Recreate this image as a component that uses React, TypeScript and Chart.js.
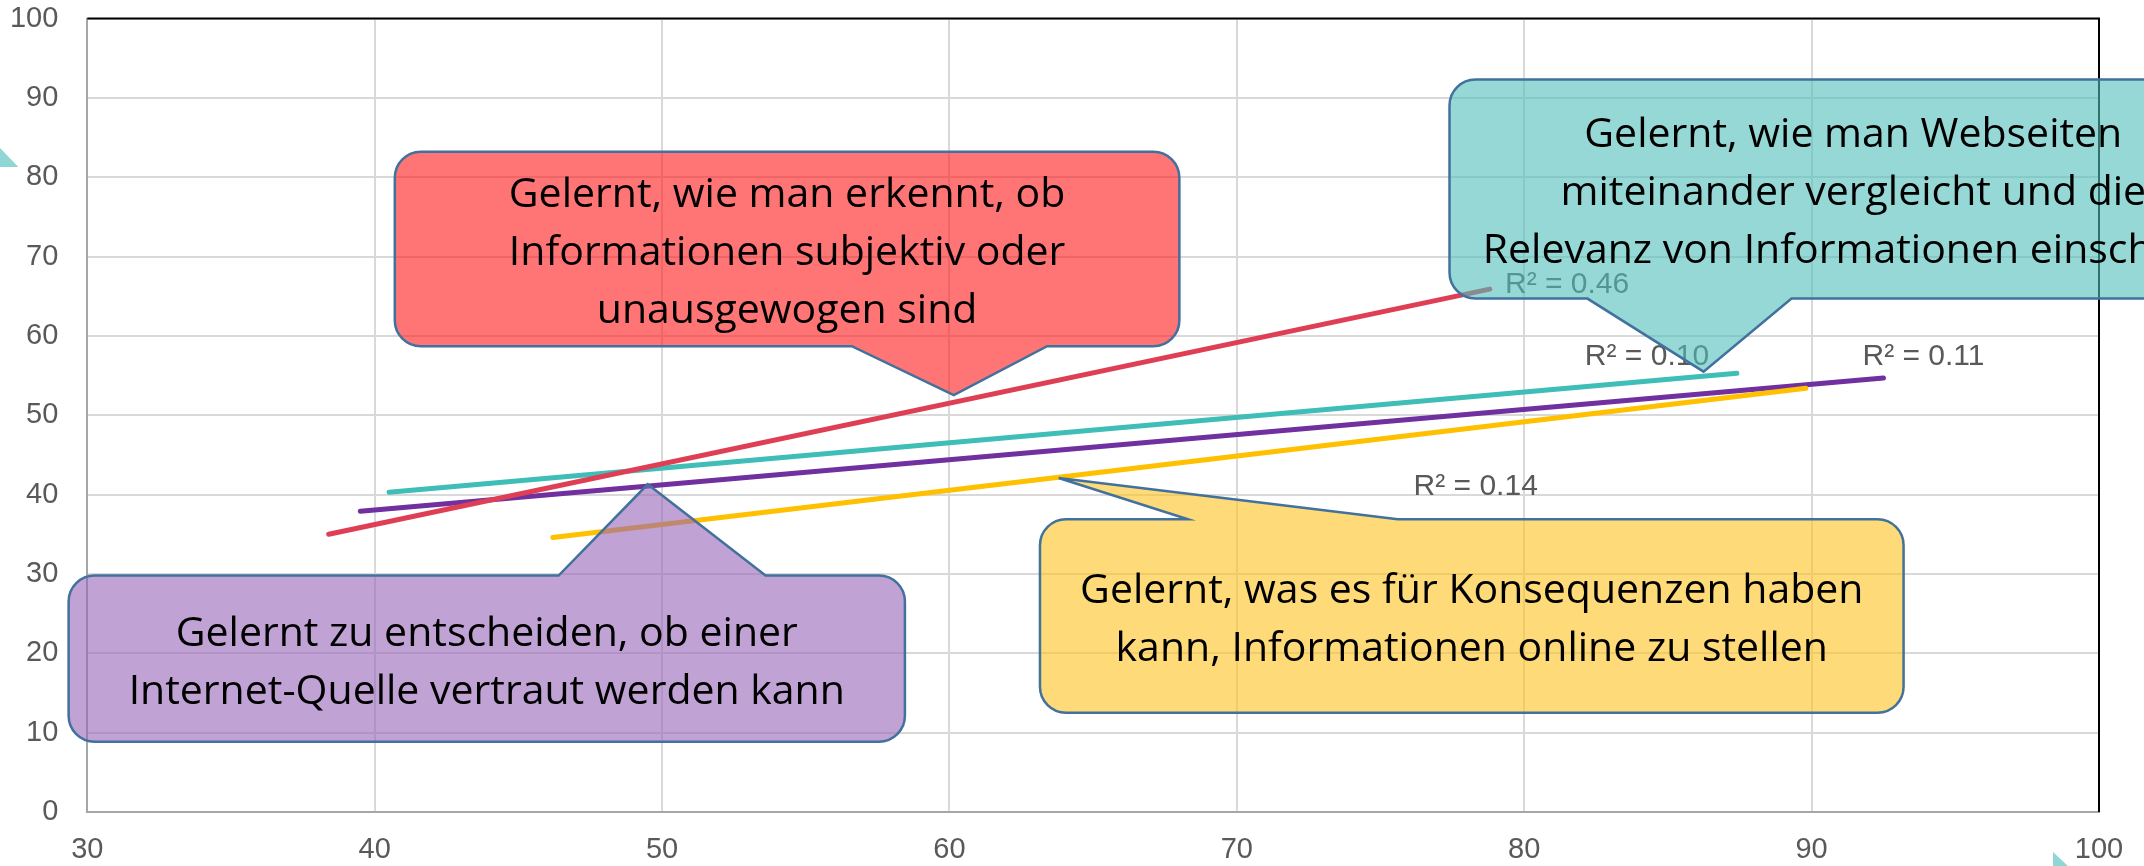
import React, { useEffect, useRef } from 'react';
import { Chart, registerables } from 'chart.js';

Chart.register(...registerables);

// ---- Axis ticks ----
const xTickValues = [30, 40, 50, 60, 70, 80, 90, 100];
const yTickValues = [0, 10, 20, 30, 40, 50, 60, 70, 80, 90, 100];

// ---- Linear trend lines (start / end points) ----
const redX = [38.4, 78.8];
const redY = [35.0, 65.9];
const yellowX = [46.2, 89.8];
const yellowY = [34.6, 53.4];
const cyanX = [40.5, 87.4];
const cyanY = [40.3, 55.3];
const purpleX = [39.5, 92.5];
const purpleY = [37.9, 54.7];

// ---- R² labels ----
const r2Texts = ['R² = 0.46', 'R² = 0.14', 'R² = 0.10', 'R² = 0.11'];

// ---- Callout texts ----
const redText = ['Gelernt, wie man erkennt, ob', 'Informationen subjektiv oder', 'unausgewogen sind'];
const yellowText = ['Gelernt, was es für Konsequenzen haben', 'kann, Informationen online zu stellen'];
const cyanText = ['Gelernt, wie man Webseiten', 'miteinander vergleicht und die', 'Relevanz von Informationen einschätzt'];
const purpleText = ['Gelernt zu entscheiden, ob einer', 'Internet-Quelle vertraut werden kann'];

// ---- Annotation placement (data coordinates) ----
const r2Anchors = [
  { x: 79.33, y: 66.4 },
  { x: 76.15, y: 40.96 },
  { x: 82.11, y: 57.34 },
  { x: 91.77, y: 57.34 },
];

type Callout = {
  lines: string[];
  x1: number; x2: number; y1: number; y2: number;
  side: 'top' | 'bottom';
  baseA: number; baseB: number; tipX: number; tipY: number;
  fill: string;
};

const callouts: Callout[] = [
  { lines: redText, x1: 40.7, x2: 68.0, y1: 58.7, y2: 83.2, side: 'bottom', baseA: 56.6, baseB: 63.4, tipX: 60.15, tipY: 52.55, fill: 'rgba(255,25,25,0.6)' },
  { lines: yellowText, x1: 63.15, x2: 93.2, y1: 12.5, y2: 36.9, side: 'top', baseA: 68.3, baseB: 75.6, tipX: 63.8, tipY: 42.1, fill: 'rgba(255,193,30,0.6)' },
  { lines: cyanText, x1: 77.4, x2: 105.5, y1: 64.7, y2: 92.3, side: 'bottom', baseA: 82.2, baseB: 89.3, tipX: 86.24, tipY: 55.5, fill: 'rgba(80,190,187,0.6)' },
  { lines: purpleText, x1: 29.35, x2: 58.45, y1: 8.85, y2: 29.8, side: 'top', baseA: 46.4, baseB: 53.6, tipX: 49.5, tipY: 41.3, fill: 'rgba(150,100,183,0.6)' },
];

const strayTriangles = [
  [{ x: 26.96, y: 83.7 }, { x: 27.6, y: 81.3 }, { x: 26.96, y: 81.3 }],
  [{ x: 98.4, y: -5.04 }, { x: 98.4, y: -6.8 }, { x: 98.92, y: -6.8 }],
];

const TICK_FONT = { family: '"Liberation Sans", Arial, sans-serif', size: 29 };
const CALLOUT_FONT = '41px "Open Sans", "Noto Sans", sans-serif';
const LINE_H = 58;
const CAP_H = 32;
const RADIUS = 26;

const overlayPlugin = {
  id: 'overlay',
  beforeDatasetsDraw(chart: any) {
    const { ctx, chartArea } = chart;
    ctx.save();
    ctx.strokeStyle = '#000000';
    ctx.lineWidth = 2;
    ctx.beginPath();
    ctx.moveTo(chartArea.left, chartArea.top);
    ctx.lineTo(chartArea.right, chartArea.top);
    ctx.lineTo(chartArea.right, chartArea.bottom);
    ctx.stroke();
    ctx.restore();
  },
  afterDatasetsDraw(chart: any) {
    const { ctx } = chart;
    const xs = chart.scales.x;
    const ys = chart.scales.y;
    const px = (v: number) => xs.getPixelForValue(v);
    const py = (v: number) => ys.getPixelForValue(v);

    ctx.save();
    // R² labels
    ctx.font = '30px "Liberation Sans", Arial, sans-serif';
    ctx.fillStyle = '#595959';
    ctx.textAlign = 'left';
    ctx.textBaseline = 'middle';
    r2Texts.forEach((t, i) => {
      ctx.fillText(t, px(r2Anchors[i].x), py(r2Anchors[i].y));
    });

    // callouts
    callouts.forEach((c) => {
      const l = px(c.x1), r = px(c.x2), t = py(c.y2), b = py(c.y1);
      const a = px(c.baseA), bb = px(c.baseB), tx = px(c.tipX), ty = py(c.tipY);
      const rad = RADIUS;
      ctx.beginPath();
      ctx.moveTo(l + rad, t);
      if (c.side === 'top') {
        ctx.lineTo(a, t);
        ctx.lineTo(tx, ty);
        ctx.lineTo(bb, t);
      }
      ctx.lineTo(r - rad, t);
      ctx.arcTo(r, t, r, t + rad, rad);
      ctx.lineTo(r, b - rad);
      ctx.arcTo(r, b, r - rad, b, rad);
      if (c.side === 'bottom') {
        ctx.lineTo(bb, b);
        ctx.lineTo(tx, ty);
        ctx.lineTo(a, b);
      }
      ctx.lineTo(l + rad, b);
      ctx.arcTo(l, b, l, b - rad, rad);
      ctx.lineTo(l, t + rad);
      ctx.arcTo(l, t, l + rad, t, rad);
      ctx.closePath();
      ctx.fillStyle = c.fill;
      ctx.fill();
      ctx.strokeStyle = '#41719C';
      ctx.lineWidth = 2.5;
      ctx.lineJoin = 'miter';
      ctx.stroke();

      ctx.fillStyle = '#000000';
      ctx.font = CALLOUT_FONT;
      ctx.textAlign = 'center';
      ctx.textBaseline = 'alphabetic';
      const cx = (l + r) / 2;
      const cy = (t + b) / 2;
      const n = c.lines.length;
      c.lines.forEach((line, i) => {
        const y = cy + (i - (n - 1) / 2) * LINE_H + CAP_H / 2;
        ctx.fillText(line, cx, y);
      });
    });

    // stray decorative triangles
    ctx.fillStyle = '#8ED7D4';
    strayTriangles.forEach((tri) => {
      ctx.beginPath();
      tri.forEach((p, i) => {
        if (i === 0) ctx.moveTo(px(p.x), py(p.y));
        else ctx.lineTo(px(p.x), py(p.y));
      });
      ctx.closePath();
      ctx.fill();
    });
    ctx.restore();
  },
};

function lineDataset(label: string, xsArr: number[], ysArr: number[], color: string) {
  return {
    label,
    data: xsArr.map((x, i) => ({ x, y: ysArr[i] })),
    showLine: true,
    borderColor: color,
    backgroundColor: color,
    borderWidth: 5,
    borderCapStyle: 'round' as const,
    pointRadius: 0,
    fill: false,
  };
}

export default function App() {
  const ref = useRef<HTMLCanvasElement>(null);
  useEffect(() => {
    const canvas = ref.current;
    if (!canvas) return;
    const chart = new Chart(canvas, {
      type: 'scatter',
      data: {
        datasets: [
          lineDataset('Subjektiv', redX, redY, '#DF3F55'),
          lineDataset('Konsequenzen', yellowX, yellowY, '#FFC000'),
          lineDataset('Webseiten', cyanX, cyanY, '#3FBDB7'),
          lineDataset('Vertrauen', purpleX, purpleY, '#7030A0'),
        ],
      },
      options: {
        responsive: false,
        animation: false,
        devicePixelRatio: 1,
        layout: { padding: { top: 18.5, right: 45, left: 0, bottom: 0 } },
        plugins: { legend: { display: false }, tooltip: { enabled: false } },
        scales: {
          x: {
            type: 'linear',
            min: 30,
            max: 100,
            afterBuildTicks: (s: any) => { s.ticks = xTickValues.map((v) => ({ value: v })); },
            afterFit: (s: any) => { s.height = 54; s.paddingLeft = 0; s.paddingRight = 0; },
            ticks: { font: TICK_FONT, color: '#595959', padding: 21, maxRotation: 0 },
            grid: { color: '#D9D9D9', lineWidth: 2, drawTicks: false },
            border: { color: '#A6A6A6', width: 2 },
          },
          y: {
            type: 'linear',
            min: 0,
            max: 100,
            afterBuildTicks: (s: any) => { s.ticks = yTickValues.map((v) => ({ value: v })); },
            afterFit: (s: any) => { s.width = 87.3; s.paddingTop = 0; s.paddingBottom = 0; },
            ticks: { font: TICK_FONT, color: '#595959', padding: 29 },
            grid: { color: '#D9D9D9', lineWidth: 2, drawTicks: false },
            border: { color: '#A6A6A6', width: 2 },
          },
        },
      },
      plugins: [overlayPlugin],
    });
    return () => chart.destroy();
  }, []);
  return (
    <div style={{ position: 'absolute', left: 0, top: 0, width: 2144, height: 866, background: '#ffffff', overflow: 'hidden' }}>
      <canvas ref={ref} width={2144} height={866} style={{ display: 'block', width: 2144, height: 866 }} />
    </div>
  );
}
